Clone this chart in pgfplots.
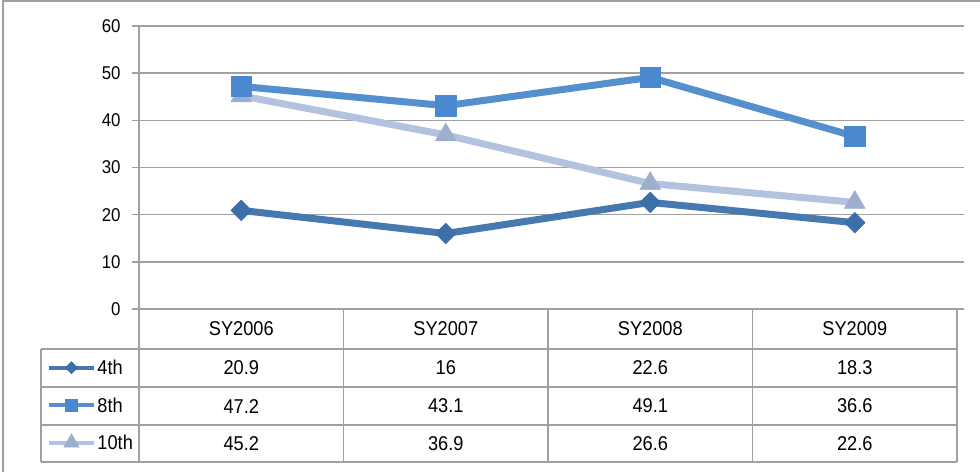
\documentclass[border=0pt]{standalone}
\usepackage{pgfplots}
\pgfplotsset{compat=1.18}
\usepackage{pgfplotstable}
\usepackage{fontspec}
\setmainfont[FakeStretch=0.91]{Liberation Sans}

\definecolor{c4}{HTML}{4778B0}
\definecolor{c4m}{HTML}{3C6EA8}
\definecolor{c8}{HTML}{5590CE}
\definecolor{c8m}{HTML}{4A89CF}
\definecolor{c10}{HTML}{B3C2DF}
\definecolor{c10m}{HTML}{9EAFCE}
\definecolor{gridgray}{HTML}{A0A0A0}

\newcommand\fs{\fontsize{20bp}{24bp}\selectfont}
\newcommand\fst{\fontsize{18.5bp}{22bp}\selectfont}

\pgfplotstableread{
x fourth eighth tenth
0.5 20.9 47.2 45.2
1.5 16 43.1 36.9
2.5 22.6 49.1 26.6
3.5 18.3 36.6 22.6
}\data

\begin{document}
\begin{tikzpicture}
\begin{axis}[
    width=818bp, height=283bp, scale only axis,
    at={(0,0)}, anchor=south west,
    xmin=0, xmax=4, ymin=0, ymax=60,
    clip=false,
    axis line style={draw=none},
    ytick={0,10,...,60},
    ymajorgrids,
    grid style={gridgray, line width=1.5bp},
    ytick style={gridgray, line width=1.5bp},
    tick align=outside, major tick length=7bp,
    xtick={0.5,1.5,2.5,3.5},
    xticklabels={SY2006,SY2007,SY2008,SY2009},
    xtick style={draw=none},
    xticklabel style={anchor=center, yshift=-13bp, font=\fs},
    yticklabel style={xshift=-8bp, font=\fst},
    /pgf/number format/assume math mode=true,
    legend image code/.code={\draw[#1, mark repeat=2, mark phase=2]
        plot coordinates {(0bp,0bp) (22.5bp,0bp) (45bp,0bp)};},
    legend style={at={(-0.11247,-0.14134)}, anchor=north west,
        draw=none, fill=none, inner sep=0pt, outer sep=0pt, row sep=0pt,
        font=\fs,
        nodes={inner xsep=1.5bp, inner ysep=0pt, text height=25.95bp, text depth=11.55bp}},
    legend cell align=left,
    nodes near coords style={font=\fs, text=black, anchor=center},
]
% legend keys
\addlegendimage{c4, line width=4bp, mark=square*, mark size=4.3bp,
    mark options={rotate=45, fill=c4m, draw=c4m, line width=0.5bp}}
\addlegendentry{4th}
\addlegendimage{c8, line width=4bp, mark=square*, mark size=6bp,
    mark options={fill=c8m, draw=c8m, line width=0.5bp}}
\addlegendentry{8th}
\addlegendimage{c10, line width=4bp, mark=triangle*, mark size=9bp,
    mark options={fill=c10m, draw=c10m, line width=0.5bp}}
\addlegendentry{10th}

% lines
\addplot[forget plot, c4, line width=7bp, line join=round, mark=square*, mark size=7.3bp,
    mark options={rotate=45, fill=c4m, draw=c4m, line width=0.5bp}]
    table[x=x, y=fourth] {\data};
\addplot[forget plot, c10, line width=7bp, line join=round, mark=triangle*, mark size=12bp,
    mark options={fill=c10m, draw=c10m, line width=0.5bp}]
    table[x=x, y=tenth] {\data};
\addplot[forget plot, c8, line width=7bp, line join=round, mark=square*, mark size=10.3bp,
    mark options={fill=c8m, draw=c8m, line width=0.5bp}]
    table[x=x, y=eighth] {\data};

% data table rows
\addplot[forget plot, draw=none, nodes near coords, point meta=explicit]
    table[x=x, y expr=-12.51, meta=fourth] {\data};
\addplot[forget plot, draw=none, nodes near coords, point meta=explicit]
    table[x=x, y expr=-20.57, meta=eighth] {\data};
\addplot[forget plot, draw=none, nodes near coords, point meta=explicit]
    table[x=x, y expr=-28.52, meta=tenth] {\data};
\end{axis}

\begin{scope}[x=1bp, y=1bp, gridgray, line width=1.5bp]
  \draw (0,283) -- (0,-153);
  \foreach \x in {204.5,409,613.5,818} \draw (\x,0) -- (\x,-153);
  \foreach \y in {-40,-78,-116,-153} \draw (-98,\y) -- (818,\y);
  \draw (-98,-40) -- (-98,-153);
  \draw[line width=2bp, gray!75] (-136,-163) -- (-136,308) -- (841,308);
  \pgfresetboundingbox
  \useasboundingbox (-139,-163) rectangle (841,309);
\end{scope}
\end{tikzpicture}
\end{document}
